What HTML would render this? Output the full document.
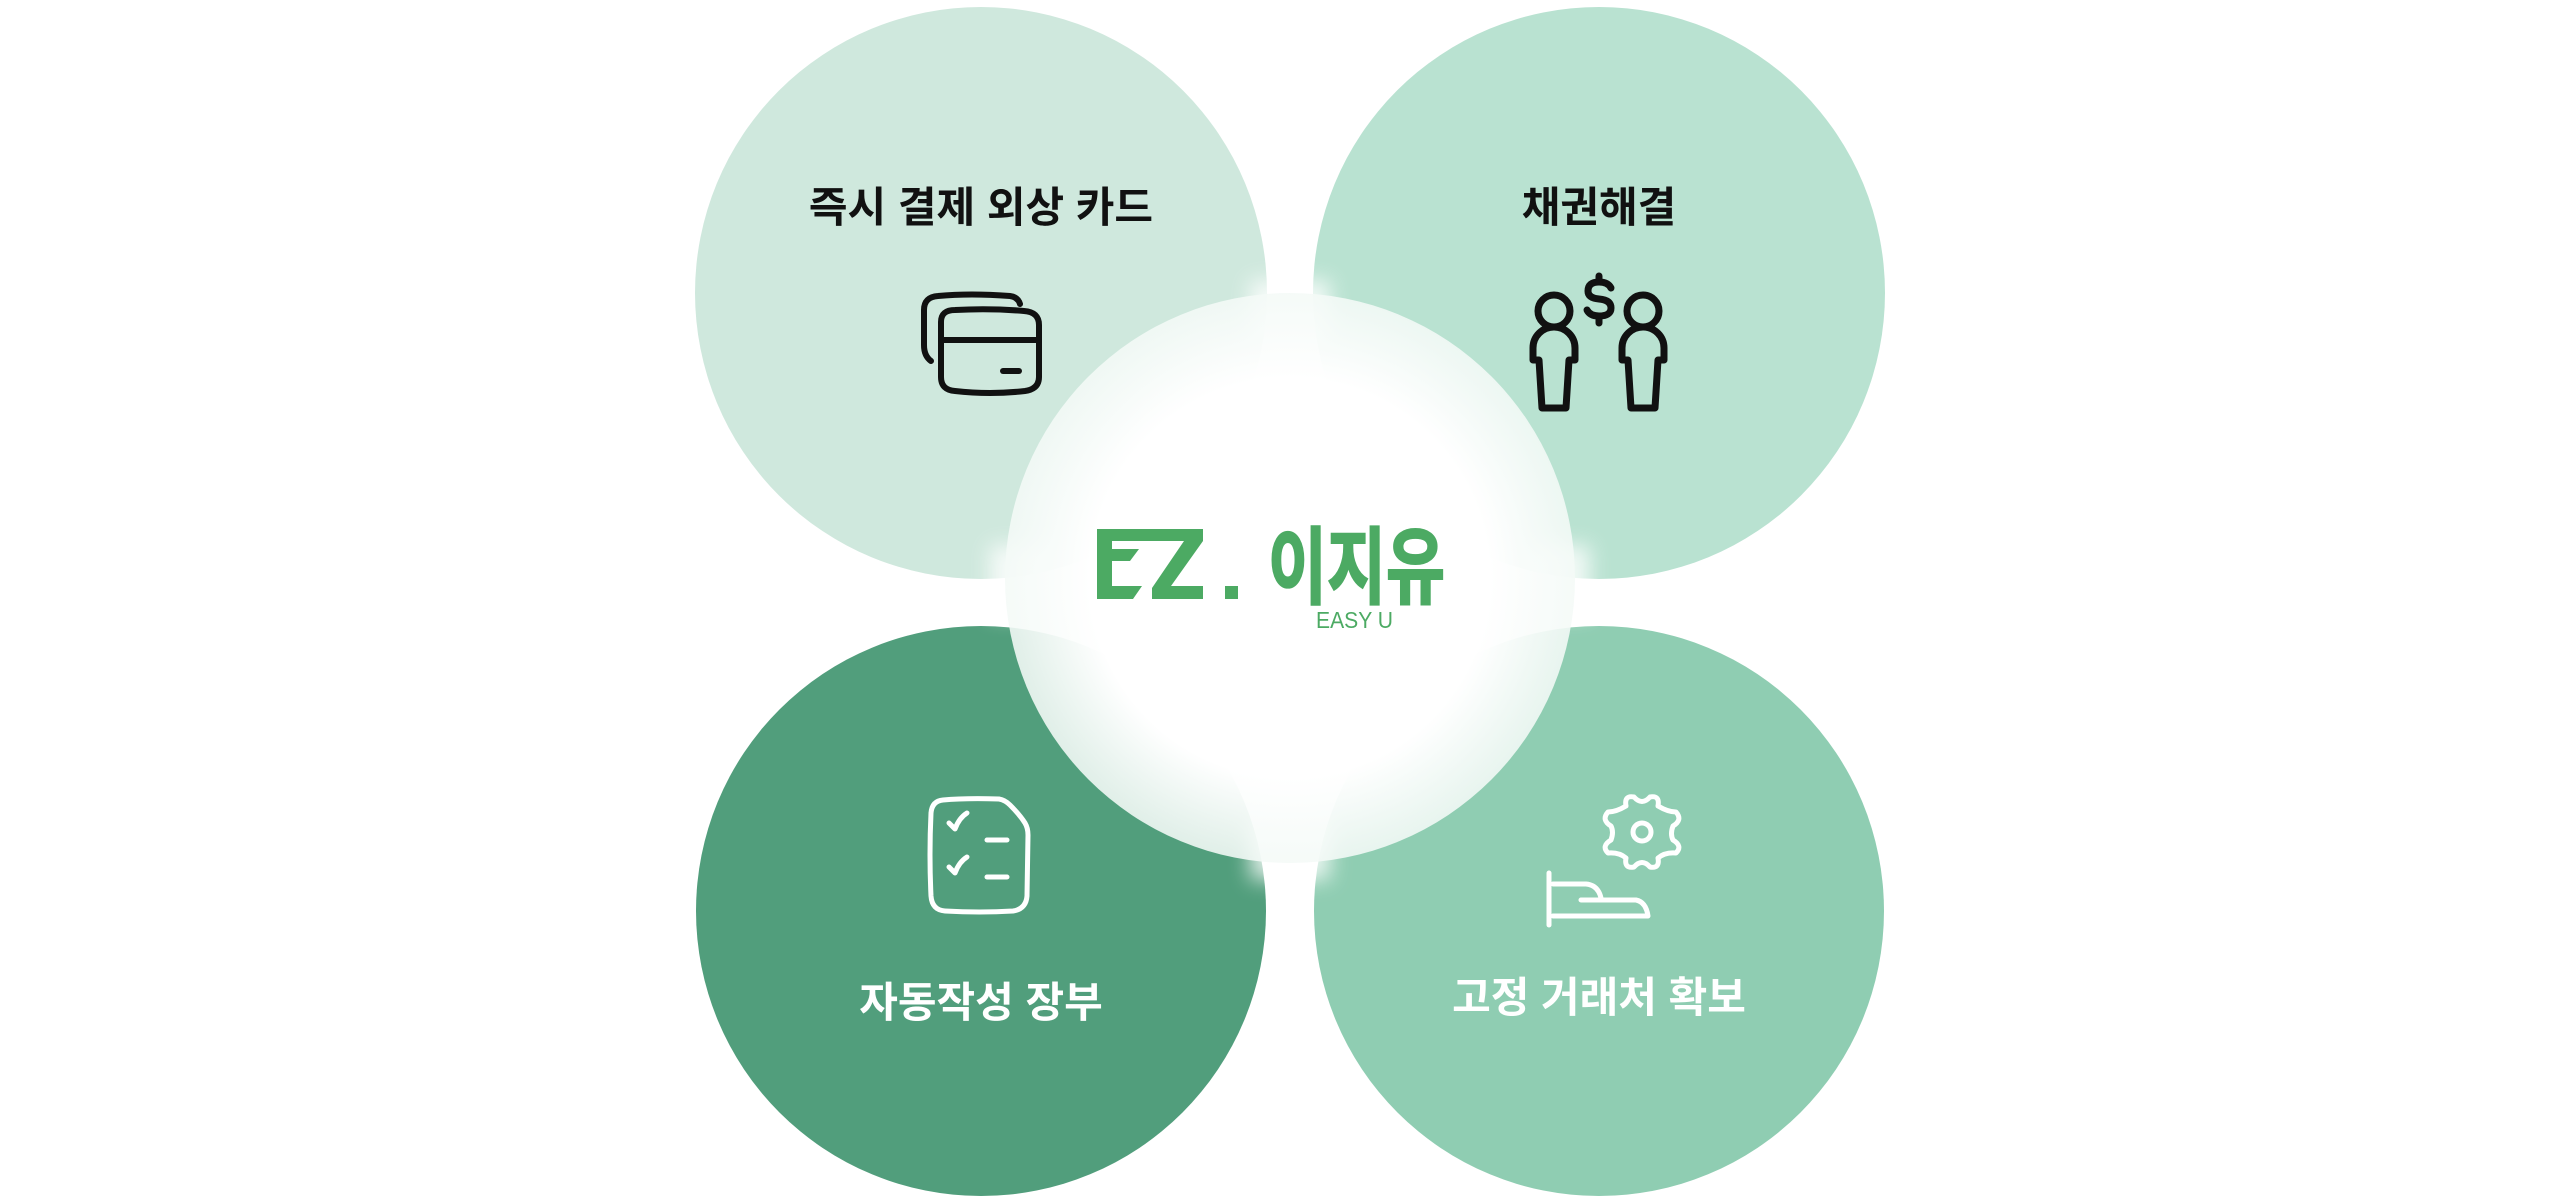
<!DOCTYPE html>
<html><head><meta charset="utf-8"><style>
html,body{margin:0;padding:0;background:#fff;}
body{width:2560px;height:1199px;overflow:hidden;position:relative;font-family:"Liberation Sans","Noto Sans CJK KR",sans-serif;}
</style></head><body>
<svg width="2560" height="1199" viewBox="0 0 2560 1199" xmlns="http://www.w3.org/2000/svg">
<defs>
<radialGradient id="cg" cx="0.5" cy="0.5" r="0.5">
<stop offset="0" stop-color="#ffffff" stop-opacity="1"/>
<stop offset="0.7" stop-color="#ffffff" stop-opacity="1"/>
<stop offset="1" stop-color="#f4faf7" stop-opacity="0.88"/>
</radialGradient>
<filter id="bl" x="-20%" y="-20%" width="140%" height="140%"><feGaussianBlur stdDeviation="10"/></filter>
</defs>
<circle cx="981" cy="293" r="286" fill="#cfe8dd"/>
<circle cx="1599" cy="293" r="286" fill="#b9e2d1"/>
<circle cx="981" cy="911" r="285" fill="#519e7c"/>
<circle cx="1599" cy="911" r="285" fill="#8fcdb2"/>
<g filter="url(#bl)" fill="#ffffff" opacity="0.8">
<rect x="1250" y="280" width="80" height="60"/>
<rect x="1250" y="820" width="80" height="60"/>
<rect x="990" y="545" width="60" height="70"/>
<rect x="1530" y="545" width="60" height="70"/>
</g>
<circle cx="1290" cy="578" r="285" fill="url(#cg)"/>

<g font-family="Liberation Sans, Noto Sans CJK KR, sans-serif" font-weight="bold" font-size="42" text-anchor="middle">
<text x="981" y="222" fill="#111">즉시 결제 외상 카드</text>
<text x="1599" y="222" fill="#111">채권해결</text>
<text x="981" y="1017" fill="#fff">자동작성 장부</text>
<text x="1599" y="1012" fill="#fff">고정 거래처 확보</text>
</g>

<g fill="none" stroke="#111" stroke-width="6" stroke-linecap="round" stroke-linejoin="round">
<path d="M931 361 Q924 356 924 345 L924 310 Q924 297 938 296 Q970 293 1010 296 Q1018 297 1020 304"/>
<path d="M941 322 Q941 310 955 310 Q990 308 1024 311 Q1039 312 1039 325 L1039 377 Q1039 389 1025 391 Q990 395 955 391 Q941 390 941 377 Z"/>
<line x1="941" y1="340" x2="1039" y2="340"/>
<line x1="1003" y1="371" x2="1019" y2="371"/>
</g>

<g fill="none" stroke="#111" stroke-width="7" stroke-linejoin="round" stroke-linecap="round">
<circle cx="1554" cy="311" r="16"/>
<circle cx="1643" cy="311" r="16"/>
<path d="M1533 360 L1533 348 A21 21 0 0 1 1575 348 L1575 360 L1569 360 L1566 408 L1542 408 L1539 360 Z"/>
<path d="M1622 360 L1622 348 A21 21 0 0 1 1664 348 L1664 360 L1658 360 L1655 408 L1631 408 L1628 360 Z"/>
<path d="M1611 288 Q1608 282 1599 282 Q1588 282 1588 291 Q1588 298 1599 299 Q1611 300 1611 308 Q1611 316 1599 316 Q1590 316 1587 310"/>
<line x1="1599" y1="276" x2="1599" y2="282"/>
<line x1="1599" y1="316" x2="1599" y2="323"/>
</g>

<g fill="none" stroke="#fff" stroke-width="5" stroke-linecap="round" stroke-linejoin="round">
<path d="M943 800 Q965 798 999 799 Q1005 800 1010 805 Q1020 815 1025 823 Q1028 828 1028 835 L1027 896 Q1026 909 1013 911 Q980 913 945 911 Q932 910 931 896 Q929 855 931 813 Q932 801 943 800 Z"/>
<path d="M949 823 L955 829 Q959 818 967 813"/>
<path d="M949 867 L955 873 Q959 862 967 857"/>
<line x1="987" y1="840" x2="1007" y2="840"/>
<line x1="987" y1="877" x2="1007" y2="877"/>
</g>

<g fill="none" stroke="#fff" stroke-width="5" stroke-linecap="round" stroke-linejoin="round">
<line x1="1549" y1="873" x2="1549" y2="925"/>
<path d="M1553 884 L1586 884 Q1598 885 1601 898 M1581 900 L1636 900 Q1646 902 1648 916 L1553 916"/>
<path d="M1634 797 Q1642 806 1650 797 Q1660 795 1658 806 Q1668 812 1676 812 Q1683 820 1673 826 Q1670 834 1673 840 Q1683 846 1676 853 Q1665 852 1658 858 Q1660 869 1650 867 Q1642 858 1634 867 Q1624 869 1626 858 Q1619 852 1608 853 Q1601 846 1611 840 Q1614 832 1611 826 Q1601 820 1608 812 Q1616 812 1626 806 Q1624 795 1634 797 Z"/>
<circle cx="1642" cy="832" r="9"/>
</g>

<g fill="#4caa63">
<path d="M1097 529 L1203 529 L1203 541 L1171 586 L1203 586 L1203 599 L1152 599 L1152 588 L1184 541 L1112 541 L1112 549 L1139 549 L1130 561 L1112 561 L1112 586 L1142 586 L1133 599 L1097 599 Z"/>
<rect x="1225" y="586" width="13" height="13"/>
</g>
<text x="1268" y="597" textLength="177" lengthAdjust="spacingAndGlyphs" font-family="Liberation Sans, Noto Sans CJK KR, sans-serif" font-weight="bold" font-size="84" fill="#4caa63" stroke="#4caa63" stroke-width="2">이지유</text>
<text x="1316" y="628" textLength="77" lengthAdjust="spacingAndGlyphs" font-family="Liberation Sans, sans-serif" font-size="23" fill="#4caa63">EASY U</text>
</svg>
</body></html>
